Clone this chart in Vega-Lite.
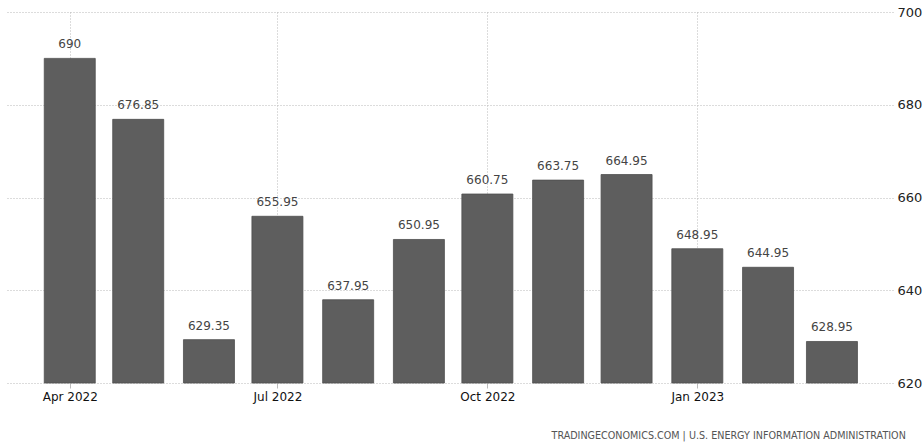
{
  "$schema": "https://vega.github.io/schema/vega-lite/v6.json",
  "width": 886,
  "height": 371,
  "autosize": {"type": "none"},
  "padding": {"left": 7, "top": 12, "right": 30, "bottom": 60},
  "background": "white",
  "title": {
    "text": "TRADINGECONOMICS.COM  |  U.S. ENERGY INFORMATION ADMINISTRATION",
    "orient": "bottom",
    "anchor": "end",
    "fontSize": 9.6,
    "fontWeight": "normal",
    "font": "DejaVu Sans",
    "color": "#555555",
    "offset": 29,
    "dx": -16
  },
  "data": {
    "values": [
      {"date": "2022-04-01", "value": 690},
      {"date": "2022-05-01", "value": 676.85},
      {"date": "2022-06-01", "value": 629.35},
      {"date": "2022-07-01", "value": 655.95},
      {"date": "2022-08-01", "value": 637.95},
      {"date": "2022-09-01", "value": 650.95},
      {"date": "2022-10-01", "value": 660.75},
      {"date": "2022-11-01", "value": 663.75},
      {"date": "2022-12-01", "value": 664.95},
      {"date": "2023-01-01", "value": 648.95},
      {"date": "2023-02-01", "value": 644.95},
      {"date": "2023-03-01", "value": 628.95}
    ]
  },
  "config": {
    "view": {"stroke": null},
    "font": "DejaVu Sans"
  },
  "encoding": {
    "x": {
      "field": "date",
      "type": "temporal",
      "scale": {
        "type": "utc",
        "padding": 0,
        "domain": [
          {"year": 2022, "month": 3, "date": 4, "hours": 12, "utc": true},
          {"year": 2023, "month": 3, "date": 27, "hours": 18, "utc": true}
        ]
      },
      "axis": {
        "title": null,
        "values": [
          {"year": 2022, "month": 4, "date": 1, "utc": true},
          {"year": 2022, "month": 7, "date": 1, "utc": true},
          {"year": 2022, "month": 10, "date": 1, "utc": true},
          {"year": 2023, "month": 1, "date": 1, "utc": true}
        ],
        "format": "%b %Y",
        "domain": false,
        "grid": true,
        "gridColor": "#b8b8b8",
        "gridDash": [1, 2],
        "gridWidth": 1,
        "ticks": true,
        "tickSize": 5,
        "tickColor": "#bbbbbb",
        "labelFontSize": 12,
        "labelColor": "#111111",
        "labelPadding": 3,
        "labelFont": "DejaVu Sans"
      }
    },
    "y": {
      "field": "value",
      "type": "quantitative",
      "scale": {"domain": [620, 700], "zero": false, "nice": false},
      "axis": {
        "title": null,
        "orient": "right",
        "values": [620, 640, 660, 680, 700],
        "domain": false,
        "ticks": false,
        "grid": true,
        "gridColor": "#b8b8b8",
        "gridDash": [1, 2],
        "labelFontSize": 13,
        "labelColor": "#222222",
        "labelPadding": 4,
        "labelFont": "DejaVu Sans"
      }
    }
  },
  "layer": [
    {
      "mark": {"type": "bar", "width": 51, "color": "#5e5e5e", "stroke": "#4f4f4f", "strokeWidth": 0.8},
      "encoding": {"y2": {"datum": 620}}
    },
    {
      "mark": {"type": "text", "dy": -14, "fontSize": 12, "color": "#444444", "font": "DejaVu Sans"},
      "encoding": {
        "text": {"field": "value", "type": "quantitative", "format": ".2~f"}
      }
    }
  ]
}
